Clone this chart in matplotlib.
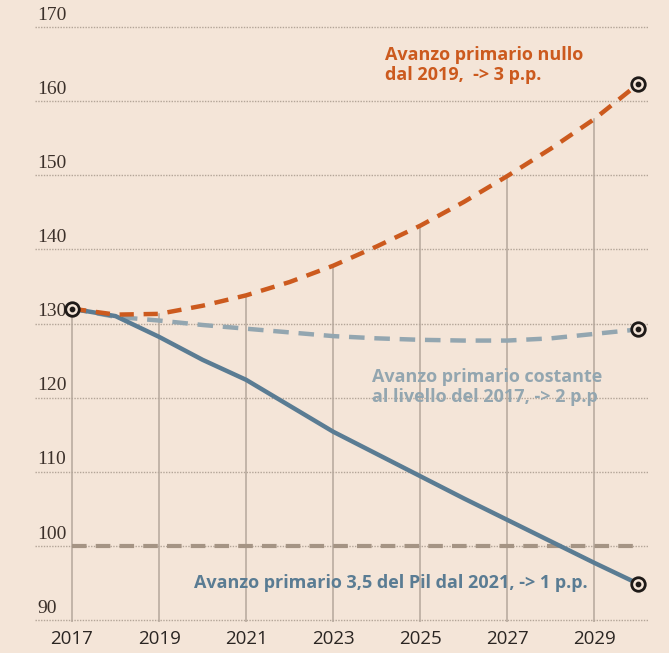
import matplotlib
matplotlib.use("Agg")
import matplotlib.pyplot as plt

years = [2017, 2018, 2019, 2020, 2021, 2022, 2023, 2024, 2025, 2026, 2027, 2028, 2029, 2030]
nullo = [132.0, 131.2, 131.3, 132.4, 133.8, 135.6, 137.8, 140.4, 143.2, 146.4, 149.9, 153.6, 157.6, 162.3]
costante = [132.0, 130.9, 130.4, 129.8, 129.3, 128.8, 128.3, 128.0, 127.8, 127.7, 127.7, 128.0, 128.6, 129.2]
pil35 = [132.0, 131.0, 128.2, 125.1, 122.4, 118.9, 115.4, 112.4, 109.4, 106.4, 103.5, 100.6, 97.7, 94.9]
soglia = 100
xticks = [2017, 2019, 2021, 2023, 2025, 2027, 2029]
yticks = [90, 100, 110, 120, 130, 140, 150, 160, 170]

bg = "#f4e5d8"
c_orange = "#cc5a1e"
c_grey = "#93a6b0"
c_blue = "#5a7c93"
c_ref = "#a59484"

sans = ["Open Sans", "DejaVu Sans"]
serif = ["Liberation Serif", "DejaVu Serif"]

fig = plt.figure(figsize=(6.69, 6.53), dpi=100, facecolor=bg)
ax = fig.add_axes([0.0523, 0.0475, 0.9163, 0.9448])
ax.set_facecolor(bg)
ax.set_xlim(2016.15, 2030.23)
ax.set_ylim(89.73, 172.97)
for s in ax.spines.values():
    s.set_visible(False)

# horizontal dotted grid
for v in yticks:
    ax.axhline(v, color="#b3a598", lw=1.0, ls=(0, (1, 1)), zorder=1)
    ax.text(2016.2, v + 0.45, str(v), family=serif, fontsize=14, color="#3b302a",
            ha="left", va="bottom")

# vertical lines up to the top curve
for x in xticks:
    top = nullo[years.index(x)]
    ax.plot([x, x], [89.73, top], color="#b5a79b", lw=1.1, zorder=1)

ax.set_xticks(xticks)
ax.set_xticklabels([str(x) for x in xticks], family=sans, fontsize=13.5, color="#2a2522")
ax.tick_params(axis="x", length=0, pad=6)
ax.set_yticks([])

# reference line at 100
ax.plot([2017, 2030], [soglia, soglia], color=c_ref, lw=3, ls=(0, (3.5, 2.2)), zorder=2)

ax.plot(years, costante, color=c_grey, lw=3.2, ls=(0, (3.5, 2.2)), zorder=3)
ax.plot(years, pil35, color=c_blue, lw=3.2, zorder=4, solid_capstyle="round")
ax.plot(years, nullo, color=c_orange, lw=3.2, ls=(0, (3.2, 2.2)), zorder=5)

# markers
mx = [2017, 2030, 2030, 2030]
my = [nullo[0], nullo[-1], costante[-1], pil35[-1]]
ax.scatter(mx, my, s=95, facecolor=bg, edgecolor="#1e1a18", linewidths=2.0, zorder=6)
ax.scatter(mx, my, s=10, color="#1e1a18", zorder=7)

ax.text(2024.18, 167.4, "Avanzo primario nullo\ndal 2019,  -> 3 p.p.", family=sans,
        fontsize=13, fontweight="bold", color=c_orange, ha="left", va="top", linespacing=1.15)
ax.text(2023.9, 124.0, "Avanzo primario costante\nal livello del 2017, -> 2 p.p", family=sans,
        fontsize=13, fontweight="bold", color=c_grey, ha="left", va="top", linespacing=1.15)
ax.text(2019.8, 95.0, "Avanzo primario 3,5 del Pil dal 2021, -> 1 p.p.", family=sans,
        fontsize=13, fontweight="bold", color=c_blue, ha="left", va="center")

fig.savefig("out.png", dpi=100, facecolor=bg)
